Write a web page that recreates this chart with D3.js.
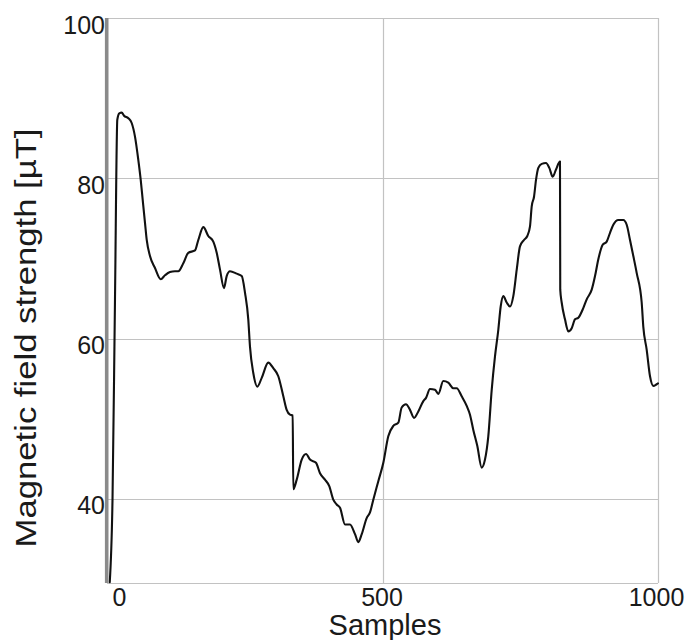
<!DOCTYPE html>
<html>
<head>
<meta charset="utf-8">
<script src="https://cdn.jsdelivr.net/npm/d3@7"></script>
<style>
  html, body { margin: 0; padding: 0; background: #fff; }
  svg { display: block; }
  text { font-family: "Liberation Sans", Arial, Helvetica, sans-serif; fill: #1a1a1a; }
</style>
</head>
<body>
<svg id="chart" width="689" height="640"></svg>
<script>
// ---- data ----
const samples = [5,10,14.5,18.7,22.3,26.7,30.9,38.7,44.8,50.8,56.8,61.2,64.8,69,72.1,78,87.1,97.5,105.3,114.3,123.4,129.4,138.5,147.5,159.7,165.7,174.8,183.8,192.9,199.1,205.1,212.3,217.2,223.2,235.4,244.5,250.5,256.4,259.5,265.5,272.8,280.8,292.7,301.8,310.9,320,326.1,332.1,337,338.1,344.3,353.4,361.2,368.4,379.3,386.6,395.6,403.4,410.7,416.9,422.9,432,441,450.1,456.1,462.3,471.3,477.3,483.3,492.4,501.5,510.5,519.6,528.7,534.8,542.6,549.9,557.2,565,574.1,579,586.2,595.3,601.3,610.3,619.4,628.5,634.7,643.7,652.8,658.8,664.8,672.1,680,686,692,698.2,704.2,710.2,714.5,719.2,725.4,731.4,737.4,743.6,749.5,756.8,762.8,767.7,770.8,775,778.6,782.8,789,796.7,802.7,808.9,814.9,822.1,822.6,825.2,831.2,837.2,843.4,849.4,855.4,864.4,870.6,879.7,885.7,891.7,899.6,906.9,912.9,918.9,928,937,943.2,949.2,955.2,961.3,970.4,973.3,979.5,985.5,991.5,997.6,1000];
const fieldValues = [29.6,39.9,64.9,87.3,88.1,88.2,87.8,87.5,86.9,85.2,82.3,79.8,77.3,74.4,72.3,70.3,68.8,67.4,67.9,68.3,68.4,68.4,69.4,70.7,71,72.3,73.9,72.8,72.1,70.7,68.6,66.3,67.8,68.4,68.1,67.8,65.7,62.4,59,55.7,54,55.1,57,56.3,55.3,52.8,51.1,50.5,50.4,41.2,42.4,44.9,45.6,44.9,44.5,43.2,42.4,41.6,39.9,39.3,38.9,36.8,36.8,35.6,34.6,35.6,37.6,38.3,39.9,42.2,44.5,47.8,49.1,49.5,51.4,51.8,51.1,50.1,50.9,52.2,52.6,53.7,53.6,53.1,54.7,54.5,53.8,53.8,52.8,51.6,50.5,48.6,46.6,43.9,44.9,47.8,53.6,57.8,61.1,64,65.3,64.5,64,65.3,68.6,71.5,72.3,72.8,74,76.5,77.7,79.8,81.3,81.8,81.9,81.3,80.2,81.1,82.1,66.1,64.5,62.4,60.9,61.3,62.4,62.6,63.8,64.9,66.1,67.8,69.9,71.7,72.1,73.2,74.2,74.8,74.8,74.2,72.3,70.3,68.2,64.5,61.5,58.6,55.3,54.1,54.3,54.4];
const xTicks = [0, 500, 1000];
const yTicks = [40, 60, 80, 100];
const xGrid = [500, 1000];
const xDomain = [0, 1000];
const yDomain = [29.5, 100];
const xTitle = "Samples";
const yTitle = "Magnetic field strength [\u00B5T]";

(function () {
// ---- layout ----
const svg = d3.select("#chart");
const mLeft = 107, mRight = 658, mTop = 18, mBottom = 583;

const x = d3.scaleLinear().domain(xDomain).range([mLeft, mRight]);
const y = d3.scaleLinear().domain(yDomain).range([mBottom, mTop]);

// grid lines
const grid = svg.append("g");
grid.selectAll("line.h").data(yTicks).join("line")
  .attr("class", "h")
  .attr("x1", mLeft).attr("x2", mRight)
  .attr("y1", d => Math.round(y(d)) + 0.5).attr("y2", d => Math.round(y(d)) + 0.5)
  .attr("stroke", "#c2c2c2").attr("stroke-width", 1.2);
grid.selectAll("line.v").data(xGrid).join("line")
  .attr("class", "v")
  .attr("y1", mTop).attr("y2", mBottom)
  .attr("x1", d => Math.round(x(d)) + 0.5).attr("x2", d => Math.round(x(d)) + 0.5)
  .attr("stroke", "#c2c2c2").attr("stroke-width", 1.2);
// bottom border
grid.append("line")
  .attr("x1", mLeft).attr("x2", mRight)
  .attr("y1", mBottom + 0.5).attr("y2", mBottom + 0.5)
  .attr("stroke", "#c2c2c2").attr("stroke-width", 1.2);

// the data line
const pts = samples.map((s, i) => [s, fieldValues[i]]);
const line = d3.line().x(d => x(d[0])).y(d => y(d[1])).curve(d3.curveMonotoneX);
svg.append("path")
  .datum(pts)
  .attr("d", line)
  .attr("fill", "none")
  .attr("stroke", "#111")
  .attr("stroke-width", 2.1)
  .attr("stroke-linejoin", "round")
  .attr("stroke-linecap", "round");

// thick grey left axis bar
svg.append("line")
  .attr("x1", x(0) - 0.3).attr("x2", x(0) - 0.3)
  .attr("y1", mTop).attr("y2", mBottom)
  .attr("stroke", "#8a8a8a").attr("stroke-width", 3.6);

// y axis tick labels
const yAxis = d3.axisLeft(y).tickValues(yTicks).tickSize(0).tickPadding(0).tickFormat(d3.format("d"));
const gy = svg.append("g").attr("transform", `translate(${mLeft - 2},0)`).call(yAxis);
gy.select(".domain").remove();
gy.selectAll("text")
  .attr("dy", "0.6em")
  .style("font-size", "25px")
  .style("font-family", "'Liberation Sans', Arial, sans-serif")
  .attr("fill", "#1a1a1a");

// x axis tick labels
const xAxis = d3.axisBottom(x).tickValues(xTicks).tickSize(0).tickPadding(5).tickFormat(d3.format("d"));
const gx = svg.append("g").attr("transform", `translate(0,${mBottom})`).call(xAxis);
gx.select(".domain").remove();
gx.selectAll("text")
  .style("font-size", "25px")
  .style("font-family", "'Liberation Sans', Arial, sans-serif")
  .attr("fill", "#1a1a1a")
  .attr("dx", d => d === 0 ? 12 : (d === 1000 ? -2 : -1));

// axis titles
svg.append("text")
  .attr("x", 385).attr("y", 635)
  .attr("text-anchor", "middle")
  .style("font-size", "29px")
  .text(xTitle);

svg.append("text")
  .attr("transform", `translate(36,${338}) rotate(-90)`)
  .attr("text-anchor", "middle")
  .attr("textLength", 419)
  .attr("lengthAdjust", "spacingAndGlyphs")
  .style("font-size", "29px")
  .text(yTitle);
})();
</script>
</body>
</html>
